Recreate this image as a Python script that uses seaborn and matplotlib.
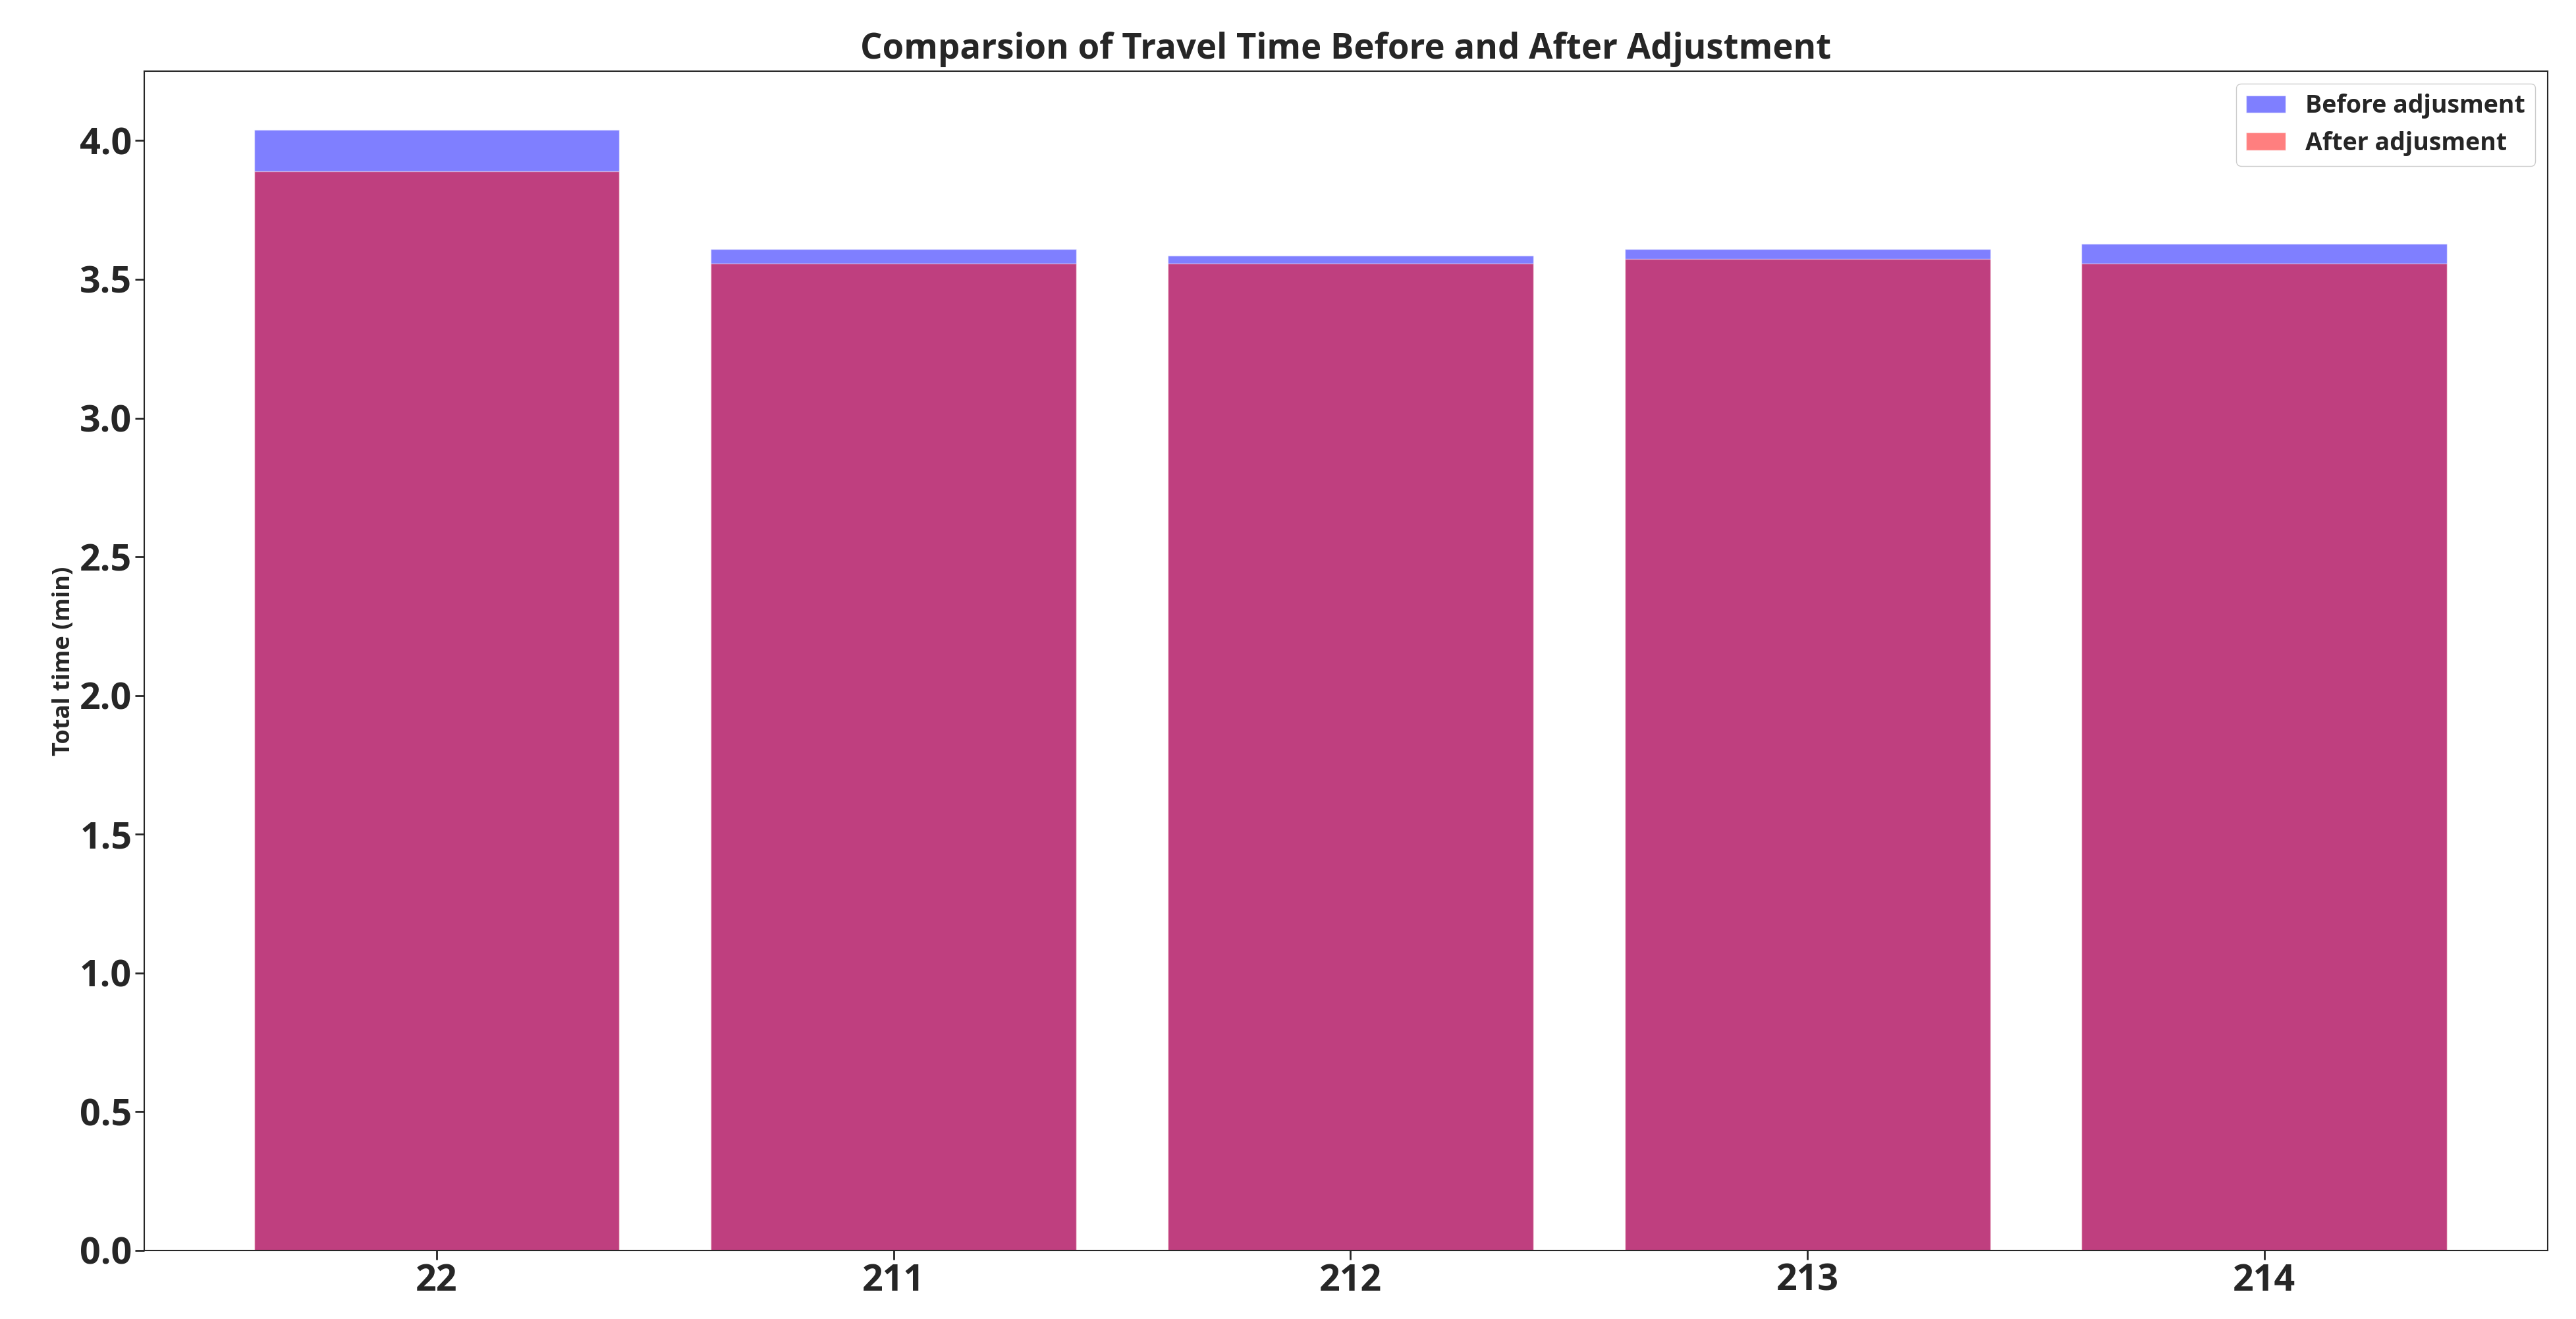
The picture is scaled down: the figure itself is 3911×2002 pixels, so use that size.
import seaborn as sns
import pandas as pd
import matplotlib.pyplot as plt

routes = ['22', '211', '212', '213', '214']
before = [4.04, 3.61, 3.585, 3.61, 3.627]
after = [3.89, 3.556, 3.556, 3.573, 3.556]

sns.set_style("ticks")
plt.rcParams['font.family'] = ['Open Sans', 'DejaVu Sans']
plt.rcParams['font.weight'] = 'bold'

df = pd.DataFrame({'route': routes, 'before': before, 'after': after})

fig = plt.figure(figsize=(39.11, 20.02), dpi=100)
ax = fig.add_axes([0.056, 0.052, 0.933, 0.894])

sns.barplot(data=df, x='route', y='before', color='blue', alpha=0.5, width=0.8,
            saturation=1, label='Before adjusment', ax=ax)
sns.barplot(data=df, x='route', y='after', color='red', alpha=0.5, width=0.8,
            saturation=1, label='After adjusment', ax=ax)

ax.set_xlim(-0.64, 4.62)
ax.set_ylim(0, 4.25)
ax.set_yticks([0, 0.5, 1.0, 1.5, 2.0, 2.5, 3.0, 3.5, 4.0])
ax.tick_params(labelsize=40, width=2, length=10)
for lab in ax.get_xticklabels() + ax.get_yticklabels():
    lab.set_fontweight('bold')
ax.set_xlabel('')
ax.set_ylabel('Total time (min)', fontsize=26, fontweight='bold')
ax.set_title('Comparsion of Travel Time Before and After Adjustment',
             fontsize=38, fontweight='bold', pad=14)
for s in ax.spines.values():
    s.set_linewidth(1.5)
ax.legend(loc='upper right', fontsize=27, prop={'weight': 'bold', 'size': 27},
          handlelength=1.6, framealpha=1)

plt.savefig("out.png", dpi=100)
